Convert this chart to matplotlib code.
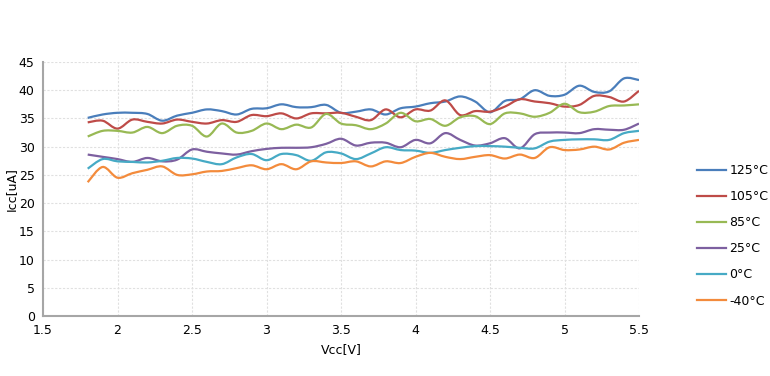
import numpy as np
import matplotlib.pyplot as plt
from matplotlib.path import Path
from matplotlib.patches import PathPatch
from matplotlib.lines import Line2D

# supply voltage sweep, 0.1 V steps
vcc = np.round(np.arange(1.8, 5.51, 0.1), 1)

icc_125 = [35.1, 35.7, 36.0, 36.0, 35.8, 34.6, 35.5, 36.0, 36.6, 36.3, 35.7, 36.7,
           36.8, 37.5, 37.0, 37.0, 37.4, 36.0, 36.2, 36.6, 35.7, 36.8, 37.1, 37.7,
           38.0, 38.9, 38.0, 36.1, 38.1, 38.4, 40.0, 39.0, 39.2, 40.8, 39.7, 39.8,
           42.1, 41.8]
icc_105 = [34.3, 34.6, 33.2, 34.8, 34.4, 34.1, 34.8, 34.4, 34.1, 34.7, 34.4, 35.6,
           35.4, 35.9, 35.0, 35.9, 35.9, 36.0, 35.3, 34.7, 36.6, 35.2, 36.6, 36.4,
           38.2, 35.6, 36.3, 36.2, 37.1, 38.4, 38.0, 37.7, 37.1, 37.4, 39.0, 38.8,
           38.0, 39.9]
icc_85 = [31.8, 32.8, 32.8, 32.5, 33.5, 32.4, 33.7, 33.7, 31.8, 34.1, 32.5, 32.8,
          34.1, 33.1, 33.9, 33.4, 35.8, 34.1, 33.8, 33.1, 34.1, 36.0, 34.5, 34.9,
          33.7, 35.2, 35.4, 34.0, 35.9, 35.9, 35.3, 36.0, 37.6, 36.1, 36.2, 37.2,
          37.3, 37.5]
icc_25 = [28.6, 28.2, 27.8, 27.3, 28.0, 27.4, 27.7, 29.5, 29.1, 28.8, 28.6, 29.2,
          29.6, 29.8, 29.8, 29.9, 30.5, 31.4, 30.2, 30.7, 30.7, 29.9, 31.2, 30.6,
          32.4, 31.2, 30.2, 30.6, 31.5, 29.7, 32.2, 32.5, 32.5, 32.4, 33.1, 33.0,
          33.0, 34.1]
icc_0 = [26.1, 27.8, 27.4, 27.3, 27.2, 27.5, 28.0, 27.9, 27.3, 26.9, 28.1, 28.7,
         27.6, 28.7, 28.5, 27.5, 29.0, 28.8, 27.8, 28.8, 29.9, 29.4, 29.3, 28.9,
         29.4, 29.8, 30.1, 30.1, 30.0, 29.8, 29.7, 30.9, 31.2, 31.3, 31.3, 31.2,
         32.4, 32.8]
icc_m40 = [23.7, 26.4, 24.5, 25.3, 25.9, 26.5, 25.0, 25.1, 25.6, 25.7, 26.2, 26.7,
           26.0, 26.9, 26.0, 27.4, 27.2, 27.1, 27.4, 26.5, 27.4, 27.1, 28.2, 28.9,
           28.2, 27.8, 28.2, 28.5, 27.9, 28.6, 28.0, 29.9, 29.4, 29.5, 30.0, 29.5,
           30.7, 31.2]

labels = ["125°C", "105°C", "85°C", "25°C", "0°C", "-40°C"]
series = [icc_125, icc_105, icc_85, icc_25, icc_0, icc_m40]
colors = ["#4a7ebb", "#be4b48", "#98b954", "#7d60a0", "#46aac5", "#f38b3c"]


def smooth_path(x, y):
    # excel style smoothed line: catmull-rom turned into bezier segments
    p = np.column_stack([x, y])
    ext = np.vstack([p[0], p, p[-1]])
    verts = [p[0]]
    codes = [Path.MOVETO]
    for i in range(len(p) - 1):
        p0, p1, p2, p3 = ext[i], ext[i + 1], ext[i + 2], ext[i + 3]
        verts += [p1 + (p2 - p0) / 6, p2 - (p3 - p1) / 6, p2]
        codes += [Path.CURVE4] * 3
    return Path(verts, codes)


fig = plt.figure(figsize=(7.7, 3.76), dpi=100)
ax = fig.add_axes([43 / 770, 1 - 316 / 376, 596 / 770, 254 / 376])

for vals, c in zip(series, colors):
    ax.add_patch(PathPatch(smooth_path(vcc, np.array(vals)), facecolor="none",
                           edgecolor=c, lw=1.6, transform=ax.transData))

ax.set_xlim(1.5, 5.5)
ax.set_ylim(0, 45)
ax.set_xticks(np.arange(1.5, 5.51, 0.5))
ax.set_xticklabels(["1.5", "2", "2.5", "3", "3.5", "4", "4.5", "5", "5.5"])
ax.set_yticks(range(0, 46, 5))
ax.grid(True, color="#e0e0e0", lw=0.8, ls=(0, (2, 1.5)))
ax.set_axisbelow(True)
for s in ["top", "right"]:
    ax.spines[s].set_visible(False)
for s in ["left", "bottom"]:
    ax.spines[s].set_color("#a6a6a6")
    ax.spines[s].set_linewidth(1.5)
ax.tick_params(length=0, labelsize=9, pad=6)
ax.set_xlabel("Vcc[V]", fontsize=9, labelpad=4)
ax.set_ylabel("Icc[uA]", fontsize=9)
ax.yaxis.set_label_coords(-0.043, 0.5)

handles = [Line2D([], [], color=c, lw=1.6) for c in colors]
fig.legend(handles, labels, loc="upper left", bbox_to_anchor=(697 / 770, 1 - 164 / 376),
           frameon=False, fontsize=9, handlelength=2.3, handletextpad=0.3,
           labelspacing=1.05, borderpad=0, borderaxespad=0)

fig.savefig("out.png", dpi=100)
